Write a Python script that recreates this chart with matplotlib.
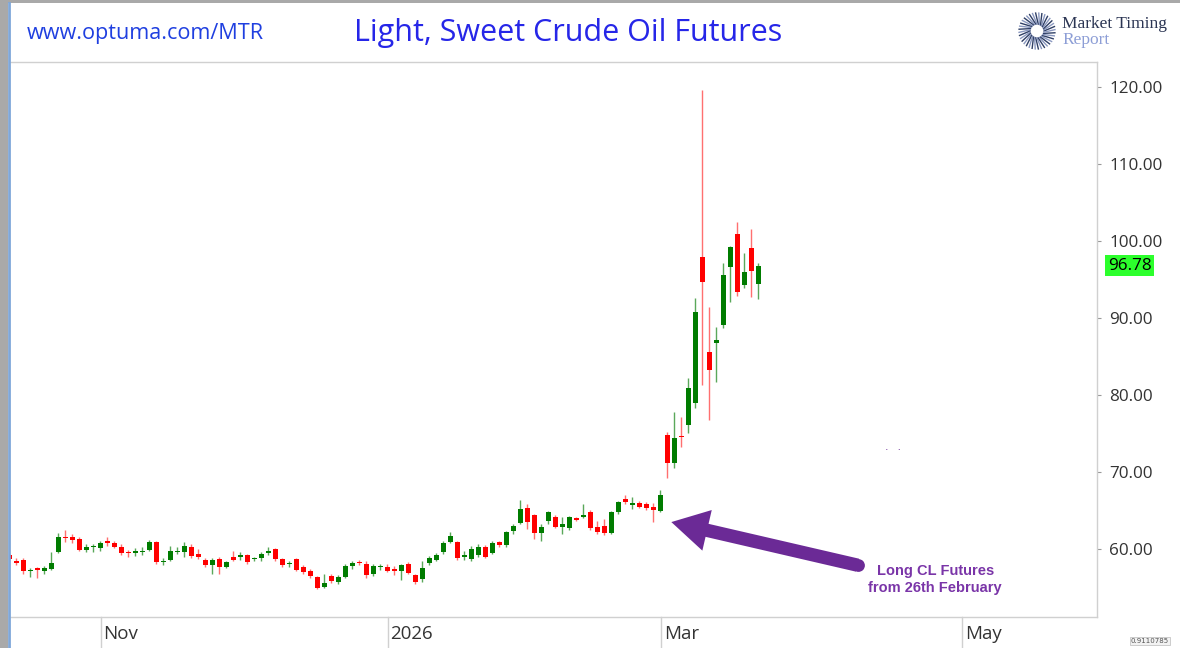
import numpy as np
import pandas as pd
import matplotlib
matplotlib.use("Agg")
import matplotlib.pyplot as plt
from matplotlib.patches import Rectangle, FancyArrowPatch
from matplotlib.transforms import blended_transform_factory

# daily OHLC, CL continuous, 14 Oct 2025 .. 19 Mar 2026
opens = [59.2, 58.5, 58.6, 57.1, 57.5, 57.1, 57.4, 59.6, 61.6, 61.6,
         61.3, 59.9, 60.2, 60.1, 61.0, 60.8, 60.3, 59.6, 59.5, 59.6,
         59.9, 60.9, 58.3, 58.6, 59.6, 59.6, 60.3, 59.4, 58.6, 57.9,
         58.7, 57.7, 58.9, 58.9, 59.2, 58.7, 58.8, 59.5, 60.0, 58.7,
         58.0, 58.7, 57.7, 57.2, 56.4, 55.1, 56.5, 55.7, 56.4, 57.8,
         58.3, 58.1, 56.8, 57.6, 57.7, 57.3, 57.2, 58.0, 56.6, 56.1,
         58.2, 58.6, 59.6, 60.9, 60.9, 59.0, 58.7, 59.2, 60.3, 59.5,
         60.9, 60.5, 62.3, 63.4, 65.3, 64.4, 62.1, 63.6, 64.2, 62.9,
         62.7, 64.0, 64.2, 64.8, 62.9, 63.0, 62.1, 64.8, 66.5, 65.7,
         66.0, 65.8, 65.5, 65.0, 74.8, 71.2, 74.6, 76.1, 79.0, 97.9,
         85.6, 86.8, 89.1, 96.6, 100.9, 94.3, 99.1, 94.4]
highs = [59.5, 58.8, 58.8, 57.5, 57.6, 57.8, 59.6, 62.1, 62.5, 62.0,
         61.6, 60.6, 60.7, 61.0, 61.5, 61.0, 60.6, 59.9, 60.1, 60.2,
         61.2, 61.0, 58.8, 60.4, 60.3, 60.9, 60.6, 60.0, 58.8, 58.8,
         59.0, 58.5, 59.7, 59.6, 59.3, 59.0, 59.6, 60.3, 60.1, 58.8,
         58.5, 58.8, 57.9, 57.4, 56.5, 56.8, 56.7, 56.6, 58.1, 58.5,
         58.6, 58.4, 58.0, 58.1, 58.0, 57.8, 58.1, 58.3, 56.8, 58.4,
         59.1, 59.5, 61.0, 62.2, 61.1, 59.8, 60.4, 60.6, 60.5, 61.1,
         61.1, 62.4, 63.2, 66.4, 65.8, 64.6, 63.3, 64.9, 64.4, 64.2,
         64.3, 64.2, 65.8, 65.1, 63.6, 63.9, 65.0, 66.2, 67.0, 66.8,
         66.3, 66.1, 66.0, 67.7, 75.2, 77.8, 77.1, 82.2, 92.6, 119.6,
         91.4, 88.8, 97.1, 99.3, 102.5, 98.4, 101.6, 97.1]
lows = [58.4, 57.9, 56.8, 56.4, 56.3, 56.8, 57.3, 59.5, 60.9, 60.8,
        59.7, 59.6, 59.6, 59.8, 60.4, 60.1, 59.2, 58.9, 59.1, 59.2,
        59.8, 58.1, 57.9, 58.4, 59.3, 59.0, 58.8, 58.7, 57.6, 56.7,
        56.8, 57.5, 58.5, 58.6, 58.1, 58.4, 58.5, 59.2, 58.5, 57.7,
        57.6, 57.1, 56.8, 56.3, 54.8, 54.9, 55.6, 55.4, 56.2, 57.4,
        57.9, 56.3, 56.5, 57.3, 57.0, 56.6, 56.0, 56.7, 55.5, 55.7,
        57.9, 58.4, 59.4, 60.8, 58.6, 58.6, 58.5, 59.0, 58.8, 59.3,
        60.3, 60.3, 62.0, 63.2, 62.6, 61.3, 61.0, 63.3, 62.7, 61.9,
        62.5, 63.6, 64.0, 62.5, 62.0, 61.8, 62.0, 64.6, 65.9, 65.2,
        65.3, 65.1, 63.5, 64.8, 69.2, 70.5, 73.2, 75.1, 78.3, 81.3,
        76.8, 81.7, 88.7, 92.1, 92.9, 93.9, 92.7, 92.5]
closes = [58.7, 58.2, 57.1, 57.2, 57.3, 57.5, 58.2, 61.6, 61.4, 61.2,
          59.9, 60.3, 60.3, 60.8, 60.8, 60.3, 59.5, 59.5, 59.7, 59.7,
          60.9, 58.3, 58.4, 59.8, 59.8, 60.4, 59.1, 59.0, 57.9, 58.6,
          57.7, 58.3, 58.6, 59.2, 58.3, 58.8, 59.4, 59.8, 58.7, 57.9,
          58.1, 57.3, 57.0, 56.5, 55.0, 55.6, 55.8, 56.4, 57.8, 58.2,
          58.2, 56.6, 57.8, 57.7, 57.2, 57.2, 57.9, 56.9, 55.7, 57.5,
          58.8, 59.2, 60.8, 61.7, 58.8, 59.2, 60.0, 60.3, 59.0, 60.8,
          60.5, 62.2, 63.0, 65.2, 63.5, 62.1, 62.9, 64.8, 62.9, 63.2,
          64.2, 63.8, 64.4, 62.7, 62.2, 62.1, 64.8, 66.1, 66.1, 66.0,
          65.5, 65.3, 65.1, 67.0, 71.2, 74.4, 74.5, 80.9, 90.8, 94.7,
          83.2, 87.1, 95.6, 99.2, 93.4, 96.0, 96.1, 96.78]

holidays = ['2025-11-27', '2025-12-25', '2026-01-01', '2026-01-19',
            '2026-02-16', '2026-04-03', '2026-05-25']
first_day = '2025-10-14'
y_ticks = [60, 70, 80, 90, 100, 110, 120]

FONT = 'Open Sans'
TXT = '#333333'

o = np.array(opens)
h = np.array(highs)
l = np.array(lows)
c = np.array(closes)
x = np.arange(len(c))
up = c >= o

# trading calendar, extended past the last bar so the empty right side gets month marks
cal = pd.date_range(first_day, periods=170, freq=pd.offsets.CustomBusinessDay(holidays=holidays))

fig = plt.figure(figsize=(11.8, 6.48), dpi=100)
ax = fig.add_axes([10 / 1180, 31 / 648, 1087 / 1180, 555 / 648])

body_col = np.where(up, '#007c00', '#ff0000')
wick_col = np.where(up, '#5aa85a', '#ff7070')
ax.vlines(x, l, h, colors=wick_col, linewidth=1.0, zorder=2)
bottoms = np.minimum(o, c)
heights = np.maximum(np.abs(c - o), 0.15)
ax.bar(x, heights, bottom=bottoms, width=0.72, color=body_col, linewidth=0, zorder=3)

ax.set_xlim(0.14, 155.4)
ax.set_ylim(51.17, 123.25)

# price axis on the right
ax.yaxis.tick_right()
ax.set_yticks(y_ticks)
ax.set_yticklabels([f'{v:.2f}' for v in y_ticks], fontfamily=FONT)
ax.tick_params(axis='y', length=3, width=0.8, color='#999999', pad=6,
               labelsize=12.3, labelcolor=TXT)
ax.set_xticks([])

for s in ['top', 'right', 'bottom']:
    ax.spines[s].set_color('#d0d0d0')
    ax.spines[s].set_linewidth(1.0)
ax.spines['left'].set_visible(False)

# month marks along the bottom band
xt = blended_transform_factory(ax.transData, ax.transAxes)
for i in range(1, len(cal)):
    if cal[i].month != cal[i - 1].month and cal[i].month in (11, 1, 3, 5):
        if i > ax.get_xlim()[1]:
            break
        ax.plot([i - 0.9, i - 0.9], [0, -0.06], transform=xt, color='#d0d0d0',
                linewidth=1.0, clip_on=False)
        lab = str(cal[i].year) if cal[i].month == 1 else cal[i].strftime('%b')
        ax.text(i - 0.5, -0.03, lab, transform=xt, ha='left', va='center',
                fontsize=13.5, color=TXT, fontfamily=FONT)

# last price box
ax.text(1.01, c[-1], f'{c[-1]:.2f}', transform=blended_transform_factory(ax.transAxes, ax.transData),
        ha='left', va='center', fontsize=12.3, color='black', fontfamily=FONT,
        bbox=dict(boxstyle='square,pad=0.15', facecolor='#2cff2c', edgecolor='none'), clip_on=False)

# entry annotation
tail = (121.2, 57.9)
arr = FancyArrowPatch(tail, (94.6, 63.5),
                      arrowstyle='simple,head_width=2.5,head_length=2.2,tail_width=0.8',
                      mutation_scale=12, color='#6b2a96', linewidth=0, zorder=5,
                      shrinkA=0, shrinkB=0)
ax.add_patch(arr)
ax.plot(*tail, marker='o', markersize=9.2, color='#6b2a96', markeredgewidth=0, zorder=5)
ax.text(132.3, 56.0, 'Long CL Futures\nfrom 26th February', ha='center', va='center',
        fontsize=10.5, fontweight='bold', color='#7a35a8', fontfamily='Liberation Sans',
        linespacing=1.3)
ax.text(126.2, 72.3, '˙  ˙', ha='center', va='center', fontsize=8, color='#6b2a96')

# header
fig.text(27 / 1180, 1 - 33 / 648, 'www.optuma.com/MTR', ha='left', va='center',
         fontsize=15.6, color='#1f3fe0', fontfamily=FONT)
fig.text(568 / 1180, 1 - 33 / 648, 'Light, Sweet Crude Oil Futures', ha='center', va='center',
         fontsize=22, color='#2626e8', fontfamily=FONT)

# logo: sunburst and name
lx, ly = 1037 / 1180, 1 - 31 / 648
ang = np.linspace(0, 2 * np.pi, 36, endpoint=False)
for k, a in enumerate(ang):
    r0, r1 = 7, 18
    col = '#2f3f66' if k % 2 == 0 else '#8a98c0'
    fig.lines.append(plt.Line2D([lx + r0 * np.cos(a) / 1180, lx + r1 * np.cos(a + 0.25) / 1180],
                                [ly + r0 * np.sin(a) / 648, ly + r1 * np.sin(a + 0.25) / 648],
                                transform=fig.transFigure, color=col, linewidth=1.0))
fig.text(1062 / 1180, 1 - 24 / 648, 'Market Timing', ha='left', va='center',
         fontsize=12.5, color='#2b3553', fontfamily='Liberation Serif')
fig.text(1062 / 1180, 1 - 40 / 648, 'Report', ha='left', va='center',
         fontsize=12.5, color='#8d9ed6', fontfamily='Liberation Serif')

# window frame
fig.patches.append(Rectangle((0, 0), 8 / 1180, 1, transform=fig.transFigure,
                             facecolor='#a9a9a9', edgecolor='none'))
fig.patches.append(Rectangle((0, 1 - 3 / 648), 1, 3 / 648, transform=fig.transFigure,
                             facecolor='#a9a9a9', edgecolor='none'))
fig.lines.append(plt.Line2D([9 / 1180, 9 / 1180], [0, 1 - 3 / 648], transform=fig.transFigure,
                            color='#7fa7d9', linewidth=2.0))
fig.text(1150 / 1180, 1 - 641 / 648, '0.9110785', ha='center', va='center',
         fontsize=5, color='#555555',
         bbox=dict(boxstyle='square,pad=0.2', facecolor='#f2f2f2', edgecolor='#bbbbbb', linewidth=0.5))

fig.savefig('out.png', dpi=100)
